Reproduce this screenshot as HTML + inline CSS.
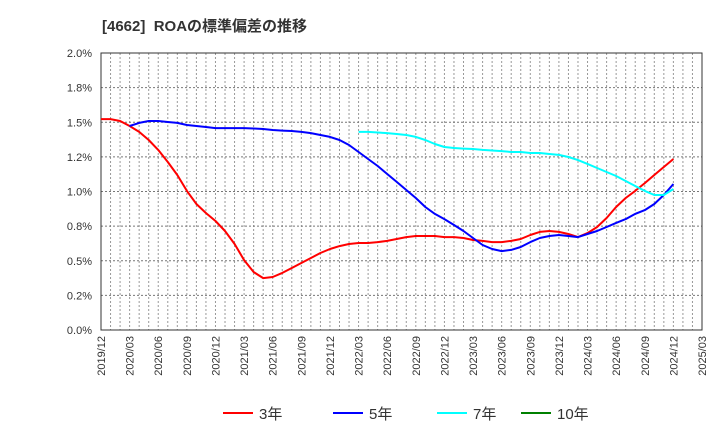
<!DOCTYPE html>
<html><head><meta charset="utf-8"><style>
body{margin:0;background:#fff;font-family:"Liberation Sans","Noto Sans CJK JP",sans-serif;}
svg text{font-family:"Liberation Sans","Noto Sans CJK JP",sans-serif;}
</style></head><body>
<svg id="chart" width="720" height="440" xmlns="http://www.w3.org/2000/svg">
<text x="102" y="31" font-size="15" font-weight="bold" fill="#333">[4662]&#160; ROAの標準偏差の推移</text>
<g id="grid"></g>
<g id="axes"></g>
<g id="series"></g>
<g id="legend"></g>
</svg>
<script>
const xLabels=["2019/12","2020/03","2020/06","2020/09","2020/12","2021/03","2021/06","2021/09","2021/12","2022/03","2022/06","2022/09","2022/12","2023/03","2023/06","2023/09","2023/12","2024/03","2024/06","2024/09","2024/12","2025/03"];
const yTicks=[0,0.25,0.5,0.75,1.0,1.25,1.5,1.75,2.0];
const yTickLabels=["0.0%","0.2%","0.5%","0.8%","1.0%","1.2%","1.5%","1.8%","2.0%"];
const red3Start=0;
const red3=[1.523,1.523,1.509,1.473,1.430,1.372,1.300,1.213,1.119,1.004,0.910,0.845,0.787,0.715,0.621,0.505,0.419,0.375,0.383,0.412,0.448,0.484,0.520,0.556,0.585,0.606,0.621,0.628,0.628,0.635,0.643,0.657,0.671,0.679,0.679,0.679,0.671,0.671,0.664,0.650,0.643,0.635,0.635,0.643,0.657,0.686,0.708,0.715,0.708,0.693,0.671,0.700,0.744,0.809,0.888,0.953,1.004,1.061,1.119,1.177,1.235];
const blue5Start=3;
const blue5=[1.473,1.495,1.509,1.509,1.502,1.495,1.480,1.473,1.466,1.458,1.458,1.458,1.458,1.455,1.451,1.444,1.440,1.437,1.430,1.422,1.408,1.394,1.372,1.336,1.285,1.235,1.184,1.126,1.069,1.011,0.953,0.888,0.838,0.801,0.758,0.715,0.664,0.614,0.585,0.570,0.578,0.599,0.635,0.664,0.679,0.686,0.679,0.671,0.693,0.715,0.744,0.773,0.801,0.838,0.866,0.910,0.975,1.054];
const cyan7Start=27;
const cyan7=[1.430,1.430,1.426,1.422,1.415,1.408,1.394,1.372,1.343,1.321,1.314,1.310,1.307,1.300,1.296,1.292,1.285,1.285,1.278,1.278,1.271,1.264,1.249,1.227,1.199,1.170,1.141,1.112,1.076,1.040,1.004,0.975,0.975,1.018];
const green10=[];
const legendNames=["3年","5年","7年","10年"];
const legendColors=["#ff0000","#0000ff","#00ffff","#008000"];

const L=101,R=702,T=53,B=330,NM=63;
const xs=m=>L+(R-L)*m/NM;
const ys=v=>B-(B-T)*v/2.0;
const NS="http://www.w3.org/2000/svg";
function mk(tag,attrs,parent){const e=document.createElementNS(NS,tag);for(const k in attrs)e.setAttribute(k,attrs[k]);parent.appendChild(e);return e;}
const grid=document.getElementById('grid'),axes=document.getElementById('axes'),ser=document.getElementById('series'),leg=document.getElementById('legend');
for(let m=1;m<NM;m++){const l=mk('line',{x1:xs(m),x2:xs(m),y1:T,y2:B,stroke:'#999','stroke-dasharray':'2,2','stroke-width':1},grid);

}
yTicks.forEach((v,i)=>{if(i>0&&i<yTicks.length-1){const l=mk('line',{x1:L,x2:R,y1:ys(v),y2:ys(v),stroke:'#777','stroke-dasharray':'2,2','stroke-width':1},grid);

}
const t=mk('text',{x:92,y:ys(v)+4,'text-anchor':'end','font-size':11,fill:'#333'},axes);t.textContent=yTickLabels[i];

});
xLabels.forEach((s,i)=>{const x=xs(i*3);const t=mk('text',{x:0,y:0,transform:`translate(${x+4},336) rotate(-90)`,'text-anchor':'end','font-size':11,fill:'#333'},axes);t.textContent=s;

});
const fr=mk('rect',{x:L,y:T,width:R-L,height:B-T,fill:'none',stroke:'#333','stroke-width':1},axes);


function line(arr,start,color,name){if(!arr.length)return;const pts=arr.map((v,i)=>xs(start+i).toFixed(1)+','+ys(v).toFixed(1)).join(' ');
const p=mk('polyline',{points:pts,fill:'none',stroke:color,'stroke-width':2,'stroke-linejoin':'round'},ser);

}
line(red3,red3Start,legendColors[0],'series-3yr');
line(blue5,blue5Start,legendColors[1],'series-5yr');
line(cyan7,cyan7Start,legendColors[2],'series-7yr');
line(green10,0,legendColors[3],'series-10yr');
const lx=[223,333,437,521];
legendNames.forEach((n,i)=>{const g=mk('g',{},leg);


mk('line',{x1:lx[i],x2:lx[i]+30,y1:413,y2:413,stroke:legendColors[i],'stroke-width':2},g);
const t=mk('text',{x:lx[i]+36,y:419,'font-size':15,fill:'#333'},g);t.textContent=n;});
</script>
</body></html>
